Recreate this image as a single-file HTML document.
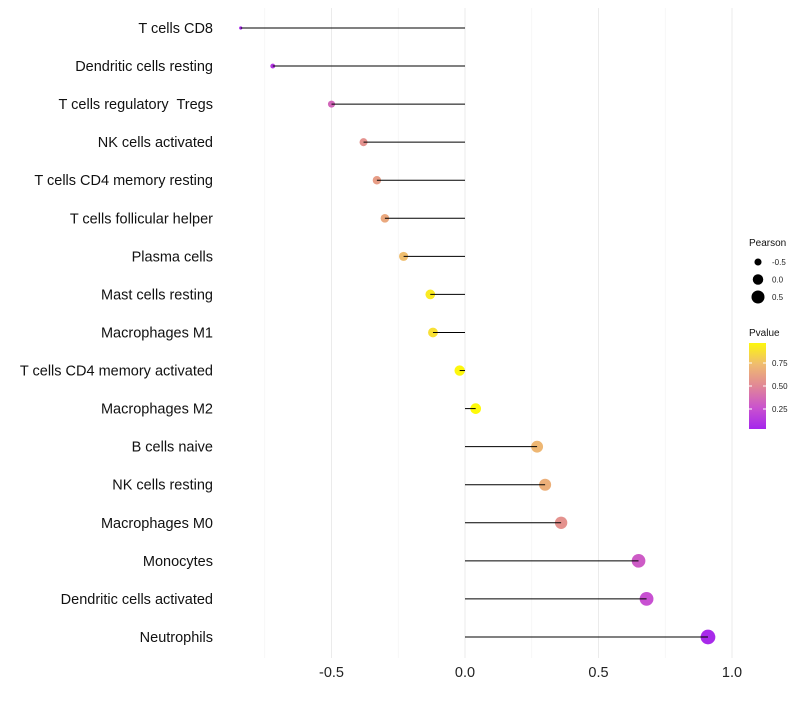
<!DOCTYPE html>
<html><head><meta charset="utf-8"><style>
body{margin:0;background:#fff;font-family:"Liberation Sans",sans-serif}
text{white-space:pre}
</style></head><body>
<svg id="c" width="800" height="700" xmlns="http://www.w3.org/2000/svg"></svg>
<script>
const categories=["T cells CD8","Dendritic cells resting","T cells regulatory  Tregs","NK cells activated","T cells CD4 memory resting","T cells follicular helper","Plasma cells","Mast cells resting","Macrophages M1","T cells CD4 memory activated","Macrophages M2","B cells naive","NK cells resting","Macrophages M0","Monocytes","Dendritic cells activated","Neutrophils"];
const pearson=[-0.84,-0.72,-0.50,-0.38,-0.33,-0.30,-0.23,-0.13,-0.12,-0.02,0.04,0.27,0.30,0.36,0.65,0.68,0.91];
const pvalue=[0.03,0.12,0.35,0.55,0.60,0.65,0.75,0.92,0.88,0.97,0.98,0.72,0.68,0.55,0.30,0.25,0.05];
const xTicks=[-0.5,0,0.5,1.0];
const xTickLabels=["-0.5","0.0","0.5","1.0"];
const xMinor=[-0.75,-0.25,0.25,0.75];
const NS="http://www.w3.org/2000/svg";
const svg=document.getElementById('c');
const x=v=>465+v*267;
const y=i=>28+i*38.06;
function el(t,a,p){const e=document.createElementNS(NS,t);for(const k in a)e.setAttribute(k,a[k]);(p||svg).appendChild(e);return e;}
function col(p){
  const stops=[[0,[160,32,240]],[0.25,[200,80,210]],[0.5,[225,135,150]],[0.75,[240,190,110]],[1,[255,255,0]]];
  for(let i=0;i<stops.length-1;i++){const [a,ca]=stops[i],[b,cb]=stops[i+1];
    if(p<=b){const t=(p-a)/(b-a);return `rgb(${ca.map((c,j)=>Math.round(c+(cb[j]-c)*t)).join(',')})`;}}
  return 'rgb(255,255,0)';
}
const rad=v=>Math.sqrt(2.5+52*(v+0.84)/1.75);
xMinor.forEach(v=>{const l=el('line',{x1:x(v),x2:x(v),y1:8,y2:658,stroke:'#f4f4f4','stroke-width':0.7});
});
xTicks.forEach((v,i)=>{const l=el('line',{x1:x(v),x2:x(v),y1:8,y2:658,stroke:'#ebebeb','stroke-width':1});

const t=el('text',{x:x(v),y:677,'text-anchor':'middle','font-size':14.5,fill:'#222'});t.textContent=xTickLabels[i];
});
categories.forEach((c,i)=>{
  const t=el('text',{x:213,y:y(i)+5,'text-anchor':'end','font-size':14.5,fill:'#111'});t.textContent=c;
  
});
categories.forEach((c,i)=>{
  const d=el('circle',{cx:x(pearson[i]),cy:y(i),r:rad(pearson[i]),fill:col(pvalue[i])});
  
  const s=el('line',{x1:x(0),x2:x(pearson[i]),y1:y(i),y2:y(i),stroke:'#000','stroke-width':1});
  
});
const lg=el('g',{});
let t=el('text',{x:749,y:246,'font-size':10,fill:'#111'},lg);t.textContent='Pearson';
[-0.5,0,0.5].forEach((v,i)=>{const cy=262+i*17.5;
  const c=el('circle',{cx:758,cy:cy,r:rad(v),fill:'#000'},lg);
  const tt=el('text',{x:772,y:cy+3,'font-size':8,fill:'#222'},lg);tt.textContent=['-0.5','0.0','0.5'][i];});
t=el('text',{x:749,y:336,'font-size':10,fill:'#111'},lg);t.textContent='Pvalue';
const defs=el('defs',{});const g=el('linearGradient',{id:'pg',x1:0,y1:1,x2:0,y2:0},defs);
[0,0.25,0.5,0.75,1].forEach(o=>el('stop',{offset:o,'stop-color':col(0.03+o*0.94)},g));
const r=el('rect',{x:749,y:343,width:17,height:86,fill:'url(#pg)'},lg);
[[0.75,363],[0.50,386],[0.25,409]].forEach(([v,yy])=>{
  el('line',{x1:749,x2:752,y1:yy,y2:yy,stroke:'#fff'},lg);el('line',{x1:763,x2:766,y1:yy,y2:yy,stroke:'#fff'},lg);
  const tt=el('text',{x:772,y:yy+3,'font-size':8,fill:'#222'},lg);tt.textContent=v.toFixed(2);});
</script>
</body></html>
